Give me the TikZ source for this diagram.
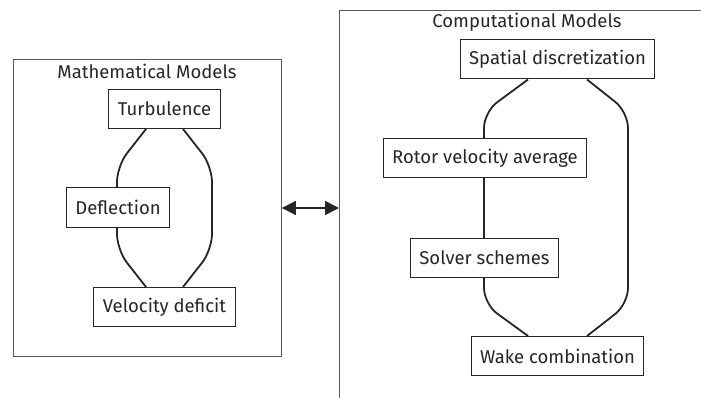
\documentclass[tikz,border=0pt]{standalone}
\usepackage{fontspec}
\setmainfont{Fira Sans}
\usetikzlibrary{arrows.meta}

\begin{document}
\begin{tikzpicture}[
    x=1pt, y=-1pt,
    font=\fontsize{18.5}{22}\selectfont,
    cluster/.style={draw=black!65, line width=0.9pt, inner sep=0pt},
    clustertitle/.style={text=black!85},
    model/.style={draw=black!85, line width=1pt, text=black!85, fill=white,
                  inner xsep=9pt, inner ysep=0pt, minimum height=39pt},
    link/.style={draw=black!85, line width=1.8pt, rounded corners=16pt},
    couple/.style={draw=black!85, line width=1.8pt,
                   {Triangle[length=14pt,width=14pt]}-{Triangle[length=14pt,width=14pt]}},
  ]

  \useasboundingbox (0,0) rectangle (701,398);
  \clip (0,0) rectangle (701,398);

  % Left frame: the analytical wake sub-models.
  \node[cluster, anchor=north west, minimum width=268pt, minimum height=297pt]
    (mathbox) at (13,59) {};
  \node[clustertitle] (mathtitle) at (147,71) {Mathematical Models};

  \node[model] (turb)   at (164.5,109) {Turbulence};
  \node[model] (defl)   at (118,207.5) {Deflection};
  \node[model] (vdef)   at (164.5,307) {Velocity deficit};

  % Right frame runs past the page edge on the right and at the bottom.
  \node[cluster, anchor=north west, minimum width=420pt, minimum height=430pt]
    (compbox) at (339,10) {};
  \node[clustertitle] (comptitle) at (527,22) {Computational Models};

  \node[model] (spat)   at (557.5,59.5) {Spatial discretization};
  \node[model] (rotor)  at (485,158.5) {Rotor velocity average};
  \node[model] (solver) at (484.5,257.5) {Solver schemes};
  \node[model] (wake)   at (557.5,356) {Wake combination};

  % Links inside the mathematical frame.
  \draw[link] ([xshift=-18.5pt]turb.south) -- (117,166) -- (defl.north -| 117,0);
  \draw[link] (defl.south -| 117,0) -- (117,250) -- ([xshift=-18.5pt]vdef.north);
  \draw[link] ([xshift=18.5pt]turb.south) -- (212,166) -- (212,250)
    -- ([xshift=18.5pt]vdef.north);

  % Links inside the computational frame.
  \draw[link] ([xshift=-29.5pt]spat.south) -- (484,112) -- (rotor.north -| 484,0);
  \draw[link] (rotor.south -| 484,0) -- (solver.north -| 484,0);
  \draw[link] (solver.south -| 484,0) -- (484,304) -- ([xshift=-29.5pt]wake.north);
  \draw[link] ([xshift=29.5pt]spat.south) -- (628,112) -- (628,304)
    -- ([xshift=29.5pt]wake.north);

  % Coupling between the two frames.
  \coordinate (mid) at (310,208);
  \draw[couple] (mid -| mathbox.east) -- (mid -| compbox.west);
\end{tikzpicture}
\end{document}
